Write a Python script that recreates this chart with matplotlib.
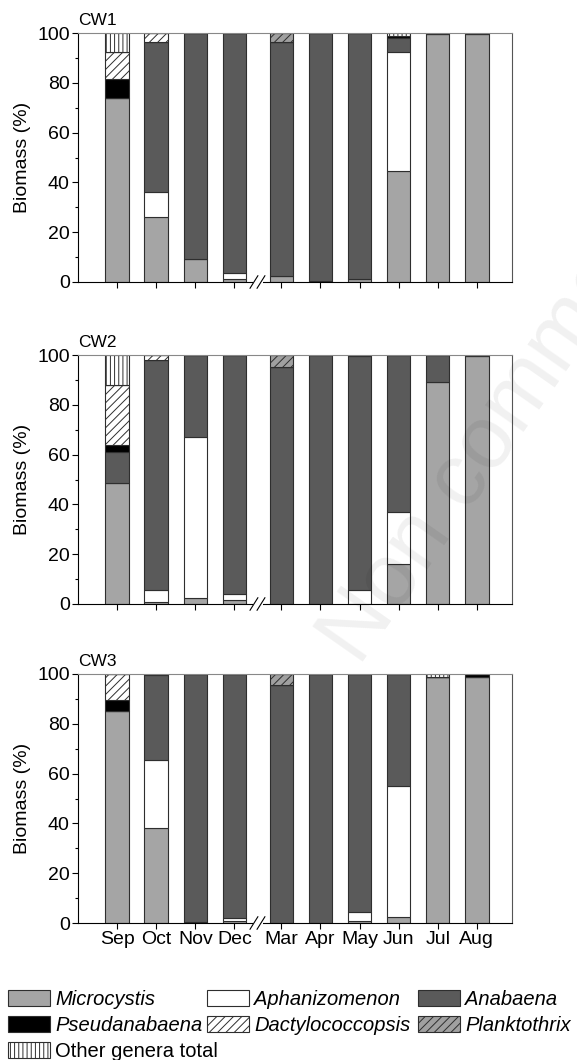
import numpy as np
import matplotlib
matplotlib.use("Agg")
import matplotlib.pyplot as plt
from matplotlib.patches import Patch, Rectangle

plt.rcParams["font.family"] = ["Liberation Sans", "DejaVu Sans"]
plt.rcParams["hatch.linewidth"] = 0.7

months = ["Sep", "Oct", "Nov", "Dec", "Mar", "Apr", "May", "Jun", "Jul", "Aug"]
# positions with the winter gap between Dec and Mar
xpos = [1, 2, 3, 4, 5.2, 6.2, 7.2, 8.2, 9.2, 10.2]

genera = ["Microcystis", "Aphanizomenon", "Anabaena", "Pseudanabaena",
          "Dactylococcopsis", "Planktothrix", "Other genera total"]

# % biomass per month, one list per genus (CW1)
cw1_micro = [74.0, 26.0, 9.1, 1.3, 2.3, 0.3, 1.1, 44.5, 99.5, 99.5]
cw1_aphan = [0.0, 10.0, 0.0, 2.2, 0.0, 0.0, 0.0, 48.0, 0.0, 0.0]
cw1_anab = [0.0, 60.5, 90.9, 96.5, 94.2, 99.7, 98.9, 5.3, 0.5, 0.5]
cw1_pseudo = [7.5, 0.0, 0.0, 0.0, 0.0, 0.0, 0.0, 1.0, 0.0, 0.0]
cw1_dactylo = [11.0, 3.5, 0.0, 0.0, 0.0, 0.0, 0.0, 0.0, 0.0, 0.0]
cw1_plankto = [0.0, 0.0, 0.0, 0.0, 3.5, 0.0, 0.0, 0.0, 0.0, 0.0]
cw1_other = [7.5, 0.0, 0.0, 0.0, 0.0, 0.0, 0.0, 1.2, 0.0, 0.0]

# CW2
cw2_micro = [48.5, 0.8, 2.3, 1.8, 0.0, 0.0, 0.0, 16.0, 89.0, 99.5]
cw2_aphan = [0.0, 4.7, 64.7, 2.2, 0.0, 0.0, 5.5, 21.0, 0.0, 0.0]
cw2_anab = [12.5, 92.5, 33.0, 96.0, 95.3, 100.0, 94.2, 63.0, 11.0, 0.5]
cw2_pseudo = [3.0, 0.0, 0.0, 0.0, 0.0, 0.0, 0.3, 0.0, 0.0, 0.0]
cw2_dactylo = [24.0, 2.0, 0.0, 0.0, 0.0, 0.0, 0.0, 0.0, 0.0, 0.0]
cw2_plankto = [0.0, 0.0, 0.0, 0.0, 4.7, 0.0, 0.0, 0.0, 0.0, 0.0]
cw2_other = [12.0, 0.0, 0.0, 0.0, 0.0, 0.0, 0.0, 0.0, 0.0, 0.0]

# CW3
cw3_micro = [85.3, 38.0, 0.5, 1.0, 0.0, 0.0, 0.8, 2.5, 98.8, 98.8]
cw3_aphan = [0.0, 27.5, 0.0, 1.0, 0.0, 0.0, 3.7, 52.5, 0.0, 0.0]
cw3_anab = [0.0, 34.0, 99.5, 98.0, 95.5, 100.0, 95.5, 45.0, 0.0, 0.0]
cw3_pseudo = [4.1, 0.5, 0.0, 0.0, 0.0, 0.0, 0.0, 0.0, 0.0, 1.2]
cw3_dactylo = [10.6, 0.0, 0.0, 0.0, 0.0, 0.0, 0.0, 0.0, 0.0, 0.0]
cw3_plankto = [0.0, 0.0, 0.0, 0.0, 4.5, 0.0, 0.0, 0.0, 0.0, 0.0]
cw3_other = [0.0, 0.0, 0.0, 0.0, 0.0, 0.0, 0.0, 0.0, 1.2, 0.0]

sites = {
    "CW1": [cw1_micro, cw1_aphan, cw1_anab, cw1_pseudo, cw1_dactylo, cw1_plankto, cw1_other],
    "CW2": [cw2_micro, cw2_aphan, cw2_anab, cw2_pseudo, cw2_dactylo, cw2_plankto, cw2_other],
    "CW3": [cw3_micro, cw3_aphan, cw3_anab, cw3_pseudo, cw3_dactylo, cw3_plankto, cw3_other],
}

faces = ["#a5a5a5", "white", "#5a5a5a", "black", "white", "#a0a0a0", "white"]
hatches = [None, None, None, None, "////", "////", "||||"]
edge = "#2e2e2e"

fig = plt.figure(figsize=(5.77, 10.6), dpi=100)
W, H = 577, 1060
left, right = 78, 512
tops = [33, 355, 674]
ph = 249

for i, (name, layers) in enumerate(sites.items()):
    top = tops[i]
    ax = fig.add_axes([left / W, 1 - (top + ph) / H, (right - left) / W, ph / H])
    bottom = np.zeros(len(months))
    for vals, fc, ht in zip(layers, faces, hatches):
        vals = np.array(vals)
        ax.bar(xpos, vals, width=0.6, bottom=bottom, color=fc, edgecolor=edge,
               linewidth=0.8, hatch=ht, zorder=2)
        bottom += vals
    ax.set_xlim(0, 11.1)
    ax.set_ylim(0, 100)
    ax.set_yticks(np.arange(0, 101, 20))
    ax.set_yticks(np.arange(10, 100, 20), minor=True)
    ax.set_xticks(xpos)
    ax.tick_params(axis="both", direction="out", labelsize=14, length=4, width=0.8,
                   pad=2)
    ax.tick_params(axis="y", which="minor", length=2.5, width=0.8)
    if i == 2:
        ax.set_xticklabels(months)
    else:
        ax.set_xticklabels([])
    ax.set_ylabel("Biomass (%)", fontsize=14, labelpad=4)
    ax.text(0.0, 1.02, name, transform=ax.transAxes, fontsize=12.5, ha="left", va="bottom")
    for s in ax.spines.values():
        s.set_linewidth(0.8)
    ax.spines["top"].set_color("#888888")
    ax.spines["right"].set_color("#555555")

    # break marks on the x axis between Dec and Mar
    xb = 4.6
    tr = ax.get_xaxis_transform()
    ax.add_patch(Rectangle((xb - 0.12, -0.02), 0.24, 0.04, transform=tr,
                           facecolor="white", edgecolor="none", clip_on=False, zorder=5))
    for dx in (-0.1, 0.08):
        ax.plot([xb + dx - 0.1, xb + dx + 0.1], [-0.025, 0.025], transform=tr,
                color="black", lw=0.8, clip_on=False, zorder=6)

# legend: three columns placed side by side, filled row-wise
handles = [Patch(facecolor=fc, edgecolor=edge, hatch=ht, linewidth=0.8)
           for fc, ht in zip(faces, hatches)]
columns = [([0, 3, 6], 8), ([1, 4], 207), ([2, 5], 418)]
for idx, xpx in columns:
    leg = fig.legend([handles[k] for k in idx], [genera[k] for k in idx],
                     loc="upper left", bbox_to_anchor=(xpx / W, 1 - 990 / H),
                     frameon=False, fontsize=14.5, handlelength=2.1, handleheight=0.8,
                     handletextpad=0.25, labelspacing=0.35,
                     borderaxespad=0.0, borderpad=0.0)
    for t in leg.get_texts():
        if t.get_text() != "Other genera total":
            t.set_style("italic")

fig.text(0.53, 0.36, "Non commercial use only", rotation=55, fontsize=64,
         color="black", alpha=0.06, ha="left", va="bottom", zorder=10)

fig.savefig("out.png", dpi=100)
